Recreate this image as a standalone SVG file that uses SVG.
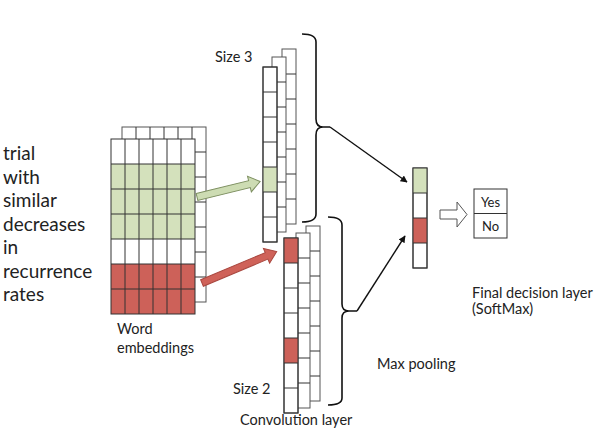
<svg xmlns="http://www.w3.org/2000/svg" width="600" height="433" viewBox="0 0 600 433">
<defs>
<style>
text{font-family:Lato,"Open Sans","Liberation Sans",sans-serif;fill:#222}
.lbl{font-size:14.5px}
.big{font-size:19px}
.cell{fill:#fff;stroke:#333;stroke-width:1}
.bk{fill:#fff;stroke:#555;stroke-width:1}
.ln{fill:none;stroke:#333;stroke-width:1}
.gr{fill:#d4e1bc}
.rd{fill:#cd6159}
.brace{fill:none;stroke:#111;stroke-width:1.6}
.conn{fill:none;stroke:#111;stroke-width:1.4}
</style>
<marker id="ah" viewBox="0 0 10 10" refX="9" refY="5" markerWidth="7" markerHeight="7" markerUnits="userSpaceOnUse" orient="auto">
<path d="M0,0 L10,5 L0,10 z" fill="#111"/>
</marker>
</defs>
<rect width="600" height="433" fill="#fff"/>

<g id="sentence">
<text class="big" x="3" y="160">trial</text>
<text class="big" x="3" y="183.5">with</text>
<text class="big" x="3" y="207">similar</text>
<text class="big" x="3" y="230.5">decreases</text>
<text class="big" x="3" y="254">in</text>
<text class="big" x="3" y="277.5">recurrence</text>
<text class="big" x="3" y="301">rates</text>
</g>

<g id="word-embeddings">
<rect class="bk" x="122" y="127" width="84" height="175"/>
<path class="ln" stroke="#555" d="M136,127V139M150,127V139M164,127V139M178,127V139M192,127V139M195,152H206M195,177H206M195,202H206M195,227H206M195,252H206M195,277H206"/>
<rect x="111" y="139" width="84" height="25" fill="#fff"/>
<rect class="gr" x="111" y="164" width="84" height="75"/>
<rect x="111" y="239" width="84" height="25" fill="#fff"/>
<rect class="rd" x="111" y="264" width="84" height="50"/>
<path class="ln" d="M125,139V314M139,139V314M153,139V314M167,139V314M181,139V314M111,164H195M111,189H195M111,214H195M111,239H195M111,264H195M111,289H195"/>
<rect x="111" y="139" width="84" height="175" fill="none" stroke="#333"/>
<text class="lbl" x="117" y="334">Word</text>
<text class="lbl" x="117" y="352.5">embeddings</text>
</g>

<g id="conv-size3">
<rect class="bk" x="282" y="49" width="14" height="175"/>
<path class="ln" stroke="#555" d="M282,74H296M282,99H296M282,124H296M282,149H296M282,174H296M282,199H296"/>
<rect class="bk" x="272" y="57" width="14" height="175"/>
<path class="ln" stroke="#555" d="M272,82H286M272,107H286M272,132H286M272,157H286M272,182H286M272,207H286"/>
<rect class="cell" x="263" y="67" width="14" height="175"/>
<rect class="gr" x="263" y="167" width="14" height="25"/>
<path class="ln" d="M263,92H277M263,117H277M263,142H277M263,167H277M263,192H277M263,217H277"/>
<rect x="263" y="67" width="14" height="175" fill="none" stroke="#333"/>
<text class="lbl" x="215" y="62">Size 3</text>
</g>

<g id="conv-size2">
<rect class="bk" x="306" y="226" width="14" height="175"/>
<path class="ln" stroke="#555" d="M306,251H320M306,276H320M306,301H320M306,326H320M306,351H320M306,376H320"/>
<rect class="bk" x="296" y="233" width="14" height="175"/>
<path class="ln" stroke="#555" d="M296,258H310M296,283H310M296,308H310M296,333H310M296,358H310M296,383H310"/>
<rect class="cell" x="284" y="238" width="14" height="175"/>
<rect class="rd" x="284" y="238" width="14" height="25"/>
<rect class="rd" x="284" y="338" width="14" height="25"/>
<path class="ln" d="M284,263H298M284,288H298M284,313H298M284,338H298M284,363H298M284,388H298"/>
<rect x="284" y="238" width="14" height="175" fill="none" stroke="#333"/>
<text class="lbl" x="233" y="394">Size 2</text>
<text class="lbl" x="240" y="425">Convolution layer</text>
</g>

<g id="max-pooling">
<rect class="cell" x="413" y="168" width="14" height="100"/>
<rect class="gr" x="413" y="168" width="14" height="25"/>
<rect class="rd" x="413" y="218" width="14" height="25"/>
<path class="ln" d="M413,193H427M413,218H427M413,243H427"/>
<rect x="413" y="168" width="14" height="100" fill="none" stroke="#333"/>
<text class="lbl" x="377" y="369">Max pooling</text>
</g>

<g id="output">
<rect x="474" y="189" width="33" height="49" fill="#fff" stroke="#333"/>
<path class="ln" d="M474,213.5H507"/>
<text x="490.5" y="207" font-size="13" text-anchor="middle">Yes</text>
<text x="490.5" y="231" font-size="13" text-anchor="middle">No</text>
<text class="lbl" x="472" y="298">Final decision layer</text>
<text class="lbl" x="472" y="314">(SoftMax)</text>
</g>

<g id="connectors">
<g transform="translate(197,197) rotate(-13.8)">
<path d="M0,-3.5 L54,-3.5 L54,-8 L65,0 L54,8 L54,3.5 L0,3.5 z" fill="#cddcb3" stroke="#7d8f60" stroke-width="1"/>
</g>
<g transform="translate(202,283) rotate(-22.8)">
<path d="M0,-3.5 L70,-3.5 L70,-8 L81,0 L70,8 L70,3.5 L0,3.5 z" fill="#cf6259" stroke="#a9473f" stroke-width="1"/>
</g>
<path class="brace" d="M302,34 Q316,34 316,42 L316,119 Q316,127 323,127 L330,127 M323,127 Q316,127 316,135 L316,214 Q316,222 302,222"/>
<path class="conn" d="M330,127 L407,182" marker-end="url(#ah)"/>
<path class="brace" d="M328,217 Q342,217 342,225 L342,304 Q342,311 349,311 L357,311 M349,311 Q342,311 342,318 L342,398 Q342,405 328,405"/>
<path class="conn" d="M357,311 L405,236" marker-end="url(#ah)"/>
<path d="M440,210 L457,210 L457,202 L467,214.5 L457,227 L457,219 L440,219 z" fill="#fff" stroke="#555" stroke-width="1"/>
</g>
</svg>
